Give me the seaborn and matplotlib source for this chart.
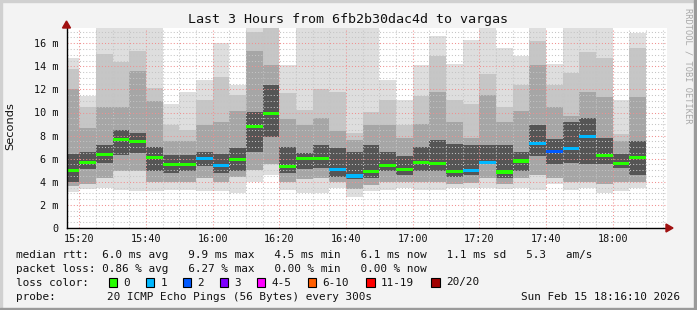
import numpy as np
import pandas as pd
import seaborn as sns
import matplotlib
matplotlib.use("Agg")
import matplotlib.pyplot as plt
import matplotlib.dates as mdates
from matplotlib.patches import Rectangle, Polygon
from matplotlib.ticker import FuncFormatter, MultipleLocator

# ---------------- data ----------------
times = ["15:15", "15:20", "15:25", "15:30", "15:35", "15:40", "15:45", "15:50",
         "15:55", "16:00", "16:05", "16:10", "16:15", "16:20", "16:25", "16:30",
         "16:35", "16:40", "16:45", "16:50", "16:55", "17:00", "17:05", "17:10",
         "17:15", "17:20", "17:25", "17:30", "17:35", "17:40", "17:45", "17:50",
         "17:55", "18:00", "18:05"]
median = [5.0, 5.7, 6.4, 7.7, 7.5, 6.1, 5.5, 5.5, 6.0, 5.4, 5.9, 8.8, 9.9, 5.3,
          6.0, 6.0, 5.1, 4.5, 4.9, 5.4, 5.1, 5.7, 5.6, 4.9, 5.0, 5.7, 4.85, 5.8,
          7.3, 6.6, 6.85, 7.9, 6.3, 5.6, 6.1]
loss = [0, 0, 0, 0, 0, 0, 0, 0, 1, 1, 0, 0, 0, 0, 0, 0, 1, 1, 0, 0, 0, 0, 0, 0,
        1, 1, 0, 0, 1, 2, 1, 1, 0, 0, 0]
ping_max = [14.7, 11.4, 18.0, 18.0, 18.0, 18.0, 10.7, 11.8, 12.8, 16.0, 12.4, 18.0,
            18.0, 14.1, 18.0, 18.0, 18.0, 18.0, 18.0, 12.8, 11.1, 14.1, 16.6, 14.2,
            16.3, 18.0, 15.6, 14.9, 18.0, 14.2, 18.0, 18.0, 18.0, 11.1, 16.9]
upper1 = [13.8, 10.5, 15.1, 14.4, 15.3, 12.1, 8.9, 8.5, 11.1, 13.1, 11.5, 17.0,
          18.0, 11.7, 10.2, 12.0, 11.8, 8.2, 10.0, 11.1, 8.9, 11.4, 14.9, 11.1,
          10.7, 13.3, 10.5, 12.4, 16.2, 12.4, 13.4, 15.2, 14.7, 8.1, 15.6]
upper2 = [12.0, 8.7, 10.5, 10.5, 13.6, 11.0, 7.5, 7.5, 8.9, 9.2, 10.1, 15.3,
          14.1, 9.4, 8.9, 9.5, 8.4, 7.6, 8.9, 8.9, 7.8, 9.0, 11.8, 9.2,
          7.8, 11.5, 9.2, 10.1, 14.1, 10.5, 9.7, 11.8, 11.3, 7.5, 11.3]
upper3 = [6.4, 6.6, 7.2, 8.5, 8.2, 7.0, 6.3, 6.3, 6.6, 6.4, 6.9, 10.0,
          12.4, 7.0, 6.5, 7.2, 6.9, 6.6, 7.2, 6.6, 6.2, 7.0, 7.6, 7.3,
          7.2, 7.2, 7.2, 6.6, 8.9, 7.7, 9.2, 9.5, 7.8, 6.4, 7.5]
lower3 = [4.0, 5.1, 5.6, 6.3, 6.5, 4.9, 4.8, 4.9, 5.4, 4.8, 4.9, 6.6,
          7.9, 4.8, 5.1, 5.2, 4.4, 4.2, 4.3, 4.9, 4.6, 4.9, 4.9, 4.4,
          4.6, 5.5, 4.3, 4.9, 6.2, 5.5, 5.6, 5.5, 5.5, 5.2, 4.6]
lower1 = [3.6, 3.8, 4.3, 4.9, 4.9, 4.0, 4.0, 4.0, 4.3, 4.0, 4.4, 5.0,
          5.5, 4.0, 4.2, 4.3, 4.0, 3.4, 3.7, 4.0, 4.0, 4.0, 4.0, 3.8,
          3.9, 4.3, 3.8, 4.3, 4.6, 4.3, 4.0, 4.0, 3.8, 4.0, 4.0]
ping_min = [3.1, 3.4, 3.5, 3.3, 3.2, 3.2, 3.3, 3.3, 3.2, 3.2, 3.0, 4.0,
            4.6, 3.3, 3.0, 3.0, 3.5, 2.7, 3.2, 3.3, 3.5, 3.3, 3.3, 3.5,
            3.5, 3.5, 3.4, 3.5, 3.3, 3.8, 3.3, 3.5, 3.0, 3.2, 3.5]

loss_labels = ["0", "1", "2", "3", "4-5", "6-10", "11-19", "20/20"]
loss_colors = ["#26ff00", "#00b8ff", "#0059ff", "#7e00ff", "#ff00ff",
               "#ff5e00", "#ff0000", "#a10000"]
y_ticks = [0, 2, 4, 6, 8, 10, 12, 14, 16]

title = "Last 3 Hours from 6fb2b30dac4d to vargas"
legend_lines = [
    "median rtt:  6.0 ms avg   9.9 ms max   4.5 ms min   6.1 ms now   1.1 ms sd   5.3   am/s",
    "packet loss: 0.86 % avg   6.27 % max   0.00 % min   0.00 % now",
]
probe_text = "20 ICMP Echo Pings (56 Bytes) every 300s"
stamp_text = "Sun Feb 15 18:16:10 2026"

# ---------------- figure ----------------
sns.set_theme(style="white")
plt.rcParams['font.family'] = ['DejaVu Sans Mono', 'DejaVu Sans']

W, H = 697, 310
fig = plt.figure(figsize=(W / 100, H / 100), dpi=100, facecolor="#f3f3f3")

def fx(px):
    return px / W

def fy(py):
    return 1 - py / H

ax = fig.add_axes([fx(66.5), fy(228), 600 / W, 200 / H])
ax.set_facecolor("white")

day = "2026-02-15 "
df = pd.DataFrame({
    "start": pd.to_datetime([day + t for t in times]),
    "median": median, "loss": loss, "max": ping_max, "u1": upper1, "u2": upper2,
    "u3": upper3, "l3": lower3, "l1": lower1, "min": ping_min,
})
x = mdates.date2num(df["start"])
width = 5 / 1440.0

layers = [("min", "max", "#dedede"), ("l1", "u1", "#c6c6c6"),
          ("l1", "u2", "#a6a6a6"), ("l3", "u3", "#555555")]
for lo, hi, col in layers:
    ax.bar(x, df[hi] - df[lo], bottom=df[lo], width=width, align="edge",
           color=col, linewidth=0, zorder=1)

med_cols = [loss_colors[v] for v in df["loss"]]
ax.bar(x, 0.27, bottom=df["median"] - 0.135, width=width, align="edge",
       color=med_cols, linewidth=0, zorder=3)

x0 = mdates.date2num(pd.Timestamp(day + "15:16:10"))
x1 = mdates.date2num(pd.Timestamp(day + "18:16:10"))
ax.set_xlim(x0, x1)
ax.set_ylim(0, 200 / 11.55)

ax.xaxis.set_major_locator(mdates.MinuteLocator(byminute=[0, 20, 40]))
ax.xaxis.set_minor_locator(mdates.MinuteLocator(byminute=range(0, 60, 5)))
ax.xaxis.set_major_formatter(mdates.DateFormatter("%H:%M"))
ax.set_yticks(y_ticks)
ax.yaxis.set_minor_locator(MultipleLocator(0.5))
ax.yaxis.set_major_formatter(FuncFormatter(lambda v, p: "0" if v == 0 else f"{v:.0f} m"))

ax.grid(which="major", color="#f09090", linestyle=(0, (1, 2)), linewidth=0.75, zorder=2)
ax.grid(which="minor", color="#c4c4c4", linestyle=(0, (1, 2)), linewidth=0.75, zorder=2)
ax.set_axisbelow(False)

ax.tick_params(axis="both", which="major", labelsize=7.3, length=2.5, width=0.7,
               color="#333333", pad=3, labelcolor="#111111")
ax.tick_params(axis="both", which="minor", length=1.5, width=0.6, color="#666666")
ax.tick_params(axis="x", which="major", pad=2)

for s in ["top", "right"]:
    ax.spines[s].set_visible(False)
for s in ["left", "bottom"]:
    ax.spines[s].set_color("black")
    ax.spines[s].set_linewidth(1.0)
    ax.spines[s].set_zorder(5)

# axis arrows (dark red)
arrow_col = "#a01010"
fig.add_artist(Polygon([[fx(666), fy(224)], [fx(666), fy(232)], [fx(673), fy(228)]],
                       closed=True, color=arrow_col, transform=fig.transFigure))
fig.add_artist(Polygon([[fx(62.5), fy(28)], [fx(70.5), fy(28)], [fx(66.5), fy(21)]],
                       closed=True, color=arrow_col, transform=fig.transFigure))
ax.set_xlabel("")
ax.set_ylabel("")

# title & labels
fig.text(fx(348.5), fy(19), title, ha="center", va="center", fontsize=9.6, color="#111111")
fig.text(fx(10), fy(126), "Seconds", rotation=90, ha="center", va="center",
         fontsize=8.2, family="DejaVu Sans", color="#111111")
fig.text(fx(688), fy(8), "RRDTOOL / TOBI OETIKER", rotation=270, ha="center", va="top",
         fontsize=6.2, color="#a8a8a8")

# legend block
fs = 7.9
fig.text(fx(16), fy(255), legend_lines[0], ha="left", va="center", fontsize=fs, color="#111111")
fig.text(fx(16), fy(268.5), legend_lines[1], ha="left", va="center", fontsize=fs, color="#111111")
fig.text(fx(16), fy(282.5), "loss color:", ha="left", va="center", fontsize=fs, color="#111111")
sw_x = [108.5, 145.5, 182.5, 219.5, 256.5, 307.5, 366, 431]
for sx, lab, col in zip(sw_x, loss_labels, loss_colors):
    fig.add_artist(Rectangle((fx(sx), fy(286.5)), 8.5 / W, 8.5 / H, facecolor=col,
                             edgecolor="black", linewidth=0.8, transform=fig.transFigure))
    fig.text(fx(sx + 15), fy(282.5), lab, ha="left", va="center", fontsize=fs, color="#111111")
fig.text(fx(16), fy(296.5), "probe:", ha="left", va="center", fontsize=fs, color="#111111")
fig.text(fx(107), fy(296.5), probe_text, ha="left", va="center", fontsize=fs, color="#111111")
fig.text(fx(680), fy(296.5), stamp_text, ha="right", va="center", fontsize=fs, color="#111111")

# 3D frame
fig.add_artist(Rectangle((0, 0), 1, 2.5 / H, color="#9a9a9a", transform=fig.transFigure, zorder=10))
fig.add_artist(Rectangle((1 - 3 / W, 0), 3 / W, 1, color="#9a9a9a", transform=fig.transFigure, zorder=10))
fig.add_artist(Rectangle((0, 1 - 2 / H), 1, 2 / H, color="#d0d0d0", transform=fig.transFigure, zorder=9))
fig.add_artist(Rectangle((0, 0), 2 / W, 1, color="#d0d0d0", transform=fig.transFigure, zorder=9))

fig.savefig("out.png", dpi=100, facecolor=fig.get_facecolor())
